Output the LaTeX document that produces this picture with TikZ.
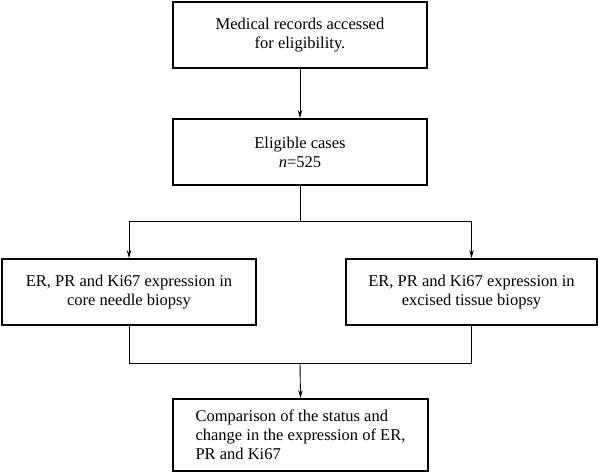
\documentclass[tikz,border=0pt]{standalone}
\usepackage{fontspec}
\setmainfont{Liberation Serif}
\usetikzlibrary{arrows.meta}
\begin{document}
\begin{tikzpicture}[x=1pt,y=-1pt,
  box/.style={draw=black,line width=1.8pt,inner sep=0pt,font=\fontsize{16.5}{19}\selectfont},
  conn/.style={line width=0.9pt},
  arr/.style={conn,-{Stealth[length=8pt,width=4.5pt]}}]
\useasboundingbox (0,0) rectangle (600,473);
\node[box,minimum width=254pt,minimum height=66pt,align=center] (b1) at (300,35) {Medical records accessed\\for eligibility.};
\node[box,minimum width=254pt,minimum height=66pt,align=center] (b2) at (300,152) {Eligible cases\\\textit{n}=525};
\node[box,minimum width=254pt,minimum height=66pt,align=center] (b3) at (129,292) {ER, PR and Ki67 expression in\\core needle biopsy};
\node[box,minimum width=251pt,minimum height=66pt,align=center] (b4) at (471.5,292) {ER, PR and Ki67 expression in\\excised tissue biopsy};
\node[box,minimum width=255pt,minimum height=72pt,align=left] (b5) at (300.5,435) {Comparison of the status and\\change in the expression of ER,\\PR and Ki67};
\coordinate (s1) at (300,221);
\coordinate (m1) at (300,363);
\draw[arr] (b1.south) -- (b2.north);
\draw[conn] (b2.south) -- (s1);
\draw[arr] (s1) -| (b3.north);
\draw[arr] (s1) -| (b4.north);
\draw[conn] (b3.south) |- (m1);
\draw[conn] (b4.south) |- (m1);
\draw[arr] (m1) -- (b5.north);
\end{tikzpicture}
\end{document}
